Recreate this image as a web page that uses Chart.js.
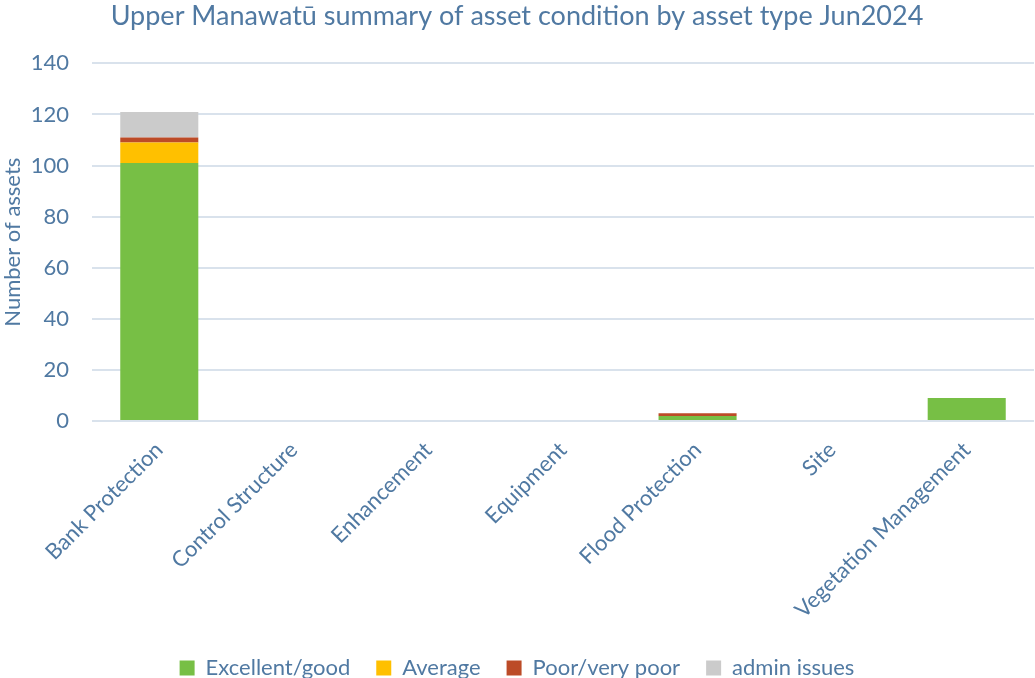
<!DOCTYPE html>
<html><head><meta charset="utf-8">
<script src="https://cdn.jsdelivr.net/npm/chart.js@4"></script>
<style>html,body{margin:0;padding:0;background:#fff;overflow:hidden;}#wrap{width:1035px;height:678px;overflow:hidden;}</style>
</head><body><div id="wrap"><canvas id="c" width="1035" height="689"></canvas></div>
<script>
const categories = ["Bank Protection","Control Structure","Enhancement","Equipment","Flood Protection","Site","Vegetation Management"];
const excellentGood = [101,0,0,0,2,0,9];
const average = [8,0,0,0,0,0,0];
const poorVeryPoor = [2,0,0,0,1,0,0];
const adminIssues = [10,0,0,0,0,0,0];
const yTicks = [0,20,40,60,80,100,120,140];
const txt = '#5079a2';
const font = 'Lato';
new Chart(document.getElementById('c'), {
  type: 'bar',
  data: {
    labels: categories,
    datasets: [
      {label:'Excellent/good', data: excellentGood, backgroundColor:'#77bf45'},
      {label:'Average', data: average, backgroundColor:'#ffc000'},
      {label:'Poor/very poor', data: poorVeryPoor, backgroundColor:'#bc4b27'},
      {label:'admin issues', data: adminIssues, backgroundColor:'#cbcbcb'}
    ]
  },
  options: {
    responsive:false, animation:false,
    layout:{padding:{left:0,right:1,top:0,bottom:0}},
    datasets:{bar:{categoryPercentage:1, barPercentage:0.58}},
    plugins:{
      title:{display:true, text:'Upper Manawatū summary of asset condition by asset type Jun2024', color:txt, font:{family:font,size:27,weight:'normal'}, padding:{top:0,bottom:31}},
      legend:{position:'bottom', labels:{color:txt, font:{family:font,size:22}, boxWidth:15, boxHeight:15, padding:26}},
      tooltip:{enabled:false}
    },
    scales:{
      x:{stacked:true, grid:{display:false, drawTicks:false}, border:{display:false},
         afterFit:(s)=>{s.height=210;},
         ticks:{color:txt, font:{family:font,size:22}, maxRotation:45, minRotation:45, padding:16}},
      y:{stacked:true, min:0, max:140, afterBuildTicks:(a)=>{a.ticks=yTicks.map(v=>({value:v}));},
         afterFit:(s)=>{s.width=92;},
         grid:{color:'#d9e2ec', lineWidth:2, drawTicks:false}, border:{display:false},
         title:{display:true, text:'Number of assets', color:txt, font:{family:font,size:22}, padding:{top:0,bottom:0}},
         ticks:{color:txt, font:{family:font,size:22}, padding:23}}
    }
  }
});
</script></body></html>
